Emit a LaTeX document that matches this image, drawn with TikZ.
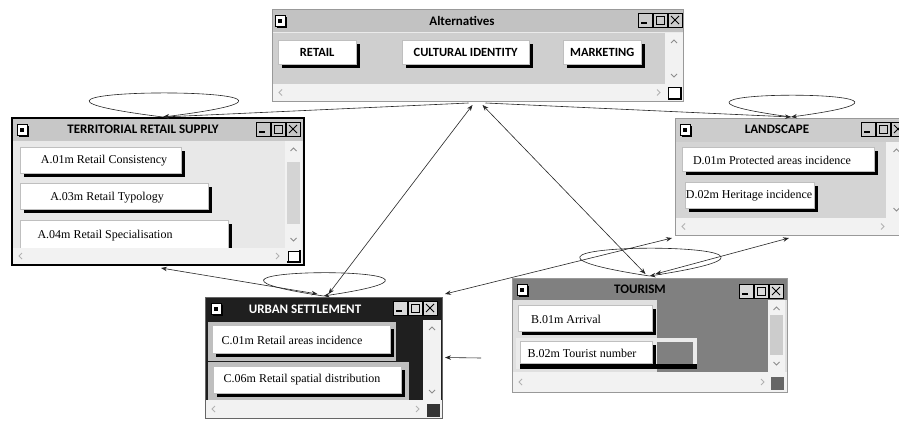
\documentclass[tikz,border=0pt]{standalone}
\usepackage{fontspec}
\setmainfont{Liberation Serif}
\newfontfamily\uifont{Carlito}
\usetikzlibrary{arrows.meta,shadows,calc}

\newcommand\wctl[3]{%
  \foreach \k in {0,1,2}{\draw[line width=0.7pt, fill=#3] ({#1+\k*15},#2) rectangle ++(14,14);}
  \draw[line width=1.4pt] ({#1+3},{#2+10}) -- ({#1+9},{#2+10});
  \draw[line width=0.9pt] ({#1+18},{#2+3}) rectangle ({#1+26},{#2+11});
  \draw[line width=0.9pt] ({#1+33},{#2+3}) -- ({#1+41},{#2+11}) ({#1+33},{#2+11}) -- ({#1+41},{#2+3});
}
\newcommand\wicon[3]{%
  \fill[black] ({#1+2},{#2+2}) rectangle ++(10,11);
  \draw[fill=#3, line width=0.5pt] (#1,#2) rectangle ++(10,11);
  \fill[black] ({#1+3},{#2+4}) rectangle ++(4,4);
}
\newcommand\vscr[4]{%
  \fill[black!5] (#1,#2) rectangle (#3,#4);
  \draw[black!45, line width=0.8pt] ({(#1+#3)/2-3},{#2+10}) -- ({(#1+#3)/2},{#2+7}) -- ({(#1+#3)/2+3},{#2+10});
  \draw[black!45, line width=0.8pt] ({(#1+#3)/2-3},{#4-10}) -- ({(#1+#3)/2},{#4-7}) -- ({(#1+#3)/2+3},{#4-10});
}
\newcommand\hscr[4]{%
  \fill[black!5] (#1,#2) rectangle (#3,#4);
  \draw[black!30, line width=0.8pt] ({#1+10},{(#2+#4)/2-3}) -- ({#1+7},{(#2+#4)/2}) -- ({#1+10},{(#2+#4)/2+3});
  \draw[black!30, line width=0.8pt] ({#3-26},{(#2+#4)/2-3}) -- ({#3-23},{(#2+#4)/2}) -- ({#3-26},{(#2+#4)/2+3});
}

\tikzset{
  winbox/.style={anchor=north west, inner sep=0pt, outer sep=0pt},
  ttl/.style={font=\uifont\bfseries\fontsize{13}{13}\selectfont, inner sep=0pt},
  itxt/.style={font=\fontsize{12}{12}\selectfont, inner sep=0pt},
  ibtn/.style={anchor=north west, inner sep=0pt, fill=white, draw=black!25, line width=0.4pt,
    general shadow={fill=black, shadow xshift=4pt, shadow yshift=-4pt}},
  abtn/.style={ibtn, font=\uifont\bfseries\fontsize{12.5}{12.5}\selectfont},
  arr/.style={draw=black!85, line width=0.6pt, >={Stealth[length=6pt,width=4.5pt]}},
}

\begin{document}
\begin{tikzpicture}[x=1pt,y=-1pt]
\useasboundingbox (0,0) rectangle (899,423);
\clip (0,0) rectangle (899,423);
\fill[white] (0,0) rectangle (899,423);

% ---------------- Alternatives
\node[winbox, fill=black!20, minimum width=411pt, minimum height=92pt] (alt) at (272,9) {};
\fill[black!24] (272,9) rectangle (683,32);
\fill[black!19] (272,32) rectangle (665,84);
\draw[black!8, line width=1pt] (272,32) -- (683,32);
\vscr{665}{33}{683}{84}
\hscr{272}{84}{683}{101}
\draw[fill=white, line width=0.4pt] (668,87) rectangle (680,98);
\draw[line width=1.3pt] (681,87) -- (681,99) -- (668,99);
\wicon{275}{15}{white}
\wctl{638}{13}{black!20}
\node[ttl] at (462,21) {Alternatives};
\node[abtn, minimum width=78pt, minimum height=24pt] (bretail) at (278,40) {RETAIL};
\node[abtn, minimum width=127pt, minimum height=24pt] (bcult) at (402,40) {CULTURAL IDENTITY};
\node[abtn, minimum width=78pt, minimum height=24pt] (bmkt) at (563,40) {MARKETING};
\draw[black!40, line width=0.6pt] (alt.north west) rectangle (alt.south east);

% ---------------- Territorial retail supply
\node[winbox, fill=black!9, minimum width=292pt, minimum height=147pt] (trs) at (12,118) {};
\fill[black!22] (12,118) rectangle (304,141);
\vscr{285}{141}{302}{248}
\fill[black!17] (287,162) rectangle (300,224);
\node[ibtn, minimum width=161pt, minimum height=26pt] (a01) at (20,147) {};
\node[itxt] at (104,161) {A.01m Retail Consistency};
\node[ibtn, minimum width=188pt, minimum height=26pt] (a03) at (20,183) {};
\node[itxt] at (107,198) {A.03m Retail Typology};
\node[ibtn, minimum width=208pt, minimum height=30pt] (a04) at (20,220) {};
\node[itxt] at (105,236) {A.04m Retail Specialisation};
\hscr{12}{248}{302}{264}
\draw[fill=white, line width=0.4pt] (288,251) rectangle (299,261);
\draw[line width=1.3pt] (300,250) -- (300,262) -- (287,262);
\wicon{17}{124}{white}
\wctl{256}{122}{black!22}
\node[ttl] at (143,129) {TERRITORIAL RETAIL SUPPLY};
\draw[black, line width=2.5pt] (trs.north west) rectangle (trs.south east);

% ---------------- Landscape
\node[winbox, fill=black!17, minimum width=232pt, minimum height=117pt] (lan) at (675,118) {};
\fill[black!20] (675,118) rectangle (907,142);
\vscr{886}{142}{907}{218}
\hscr{675}{218}{907}{235}
\node[ibtn, minimum width=192pt, minimum height=24pt] (d01) at (682,147) {};
\node[itxt] at (772,160) {D.01m Protected areas incidence};
\node[ibtn, minimum width=129pt, minimum height=26pt] (d02) at (685,182) {};
\node[itxt] at (749,196) {D.02m Heritage incidence};
\wicon{680}{124}{white}
\wctl{861}{122}{black!20}
\node[ttl] at (777,129) {LANDSCAPE};
\draw[black!40, line width=0.6pt] (lan.north west) rectangle (lan.south east);

% ---------------- Urban settlement
\node[winbox, fill=black!88, minimum width=237pt, minimum height=121pt] (urb) at (205,297) {};
\fill[black!25] (208,322) rectangle (396,361);
\fill[black!25] (208,362) rectangle (409,400);
\node[ibtn, minimum width=178pt, minimum height=28pt] (c01) at (212,325) {};
\node[itxt] at (292,340) {C.01m Retail areas incidence};
\node[ibtn, minimum width=188pt, minimum height=27pt] (c06) at (213,366) {};
\node[itxt] at (302,380) {C.06m Retail spatial distribution};
\vscr{423}{320}{441}{400}
\hscr{205}{400}{442}{418}
\fill[black!80] (427,404) rectangle (440,417);
\wicon{211}{303}{white}
\wctl{393}{301}{black!15}
\node[ttl, text=white] at (305,309) {URBAN SETTLEMENT};
\draw[black!60, line width=0.6pt] (urb.north west) rectangle (urb.south east);

% ---------------- Tourism
\node[winbox, fill=black!12, minimum width=275pt, minimum height=114pt] (tou) at (512,278) {};
\fill[black!50] (512,278) rectangle (787,300);
\fill[black!50] (657,300) rectangle (768,372);
\node[ibtn, minimum width=134pt, minimum height=26pt] (b01) at (518,305) {};
\node[itxt] at (566,319) {B.01m Arrival};
\fill[black!8] (516,338) rectangle (697,369);
\node[ibtn, minimum width=132pt, minimum height=22pt] (b02) at (520,341) {};
\fill[black!50] (657,342) rectangle (693,364);
\fill[black] (520,364) rectangle (697,369);
\node[itxt] at (582,353) {B.02m Tourist number};
\vscr{768}{300}{785}{372}
\fill[black!20] (770,315) rectangle (783,355);
\hscr{512}{372}{787}{392}
\fill[black!60] (771,377) rectangle (784,390);
\wicon{517}{284}{white}
\wctl{739}{284}{black!15}
\node[ttl] at (640,289) {TOURISM};
\draw[black!40, line width=0.6pt] (tou.north west) rectangle (tou.south east);

% ---------------- connector end points
\coordinate (trsT) at ($(trs.north)+(5,-1)$);
\coordinate (lanT) at ($(lan.north)+(0,-1)$);
\coordinate (urbT) at ($(urb.north)+(0,-1)$);
\coordinate (touT) at ($(tou.north)+(0,-2)$);
\coordinate (freeA) at (481,358);

% self loops
\draw[arr,->] (trsT) .. controls +(-256,-32) and +(256,-32) .. (trsT);
\draw[arr,->] (lanT) .. controls +(-215,-29) and +(215,-29) .. (lanT);
\draw[arr,->] (urbT) .. controls +(-208,-31) and +(208,-31) .. (urbT);
\draw[arr,->] (touT) .. controls +(-242,-37) and +(242,-37) .. (touT);

% links
\draw[arr,->] ($(alt.south)+(-9,2)$) -- (trsT);
\draw[arr,->] ($(alt.south)+(8,2)$) -- (lanT);
\draw[arr,<->] ($(alt.south)+(-5,4)$) -- ($(urb.north)+(5,-3)$);
\draw[arr,<->] ($(alt.south)+(5,4)$) -- ($(tou.north)+(-4,-4)$);
\draw[arr,<->] ($(trs.south)+(3,3)$) -- ($(urb.north)+(-6,-3)$);
\draw[arr,<->] ($(urb.north east)+(3,-3)$) -- ($(lan.south west)+(-3,3)$);
\draw[arr,<->] ($(tou.north)+(6,-4)$) -- ($(lan.south)+(-2,3)$);
\draw[arr,->] (freeA) -- ($(urb.east)+(3,0)$);
\end{tikzpicture}
\end{document}
